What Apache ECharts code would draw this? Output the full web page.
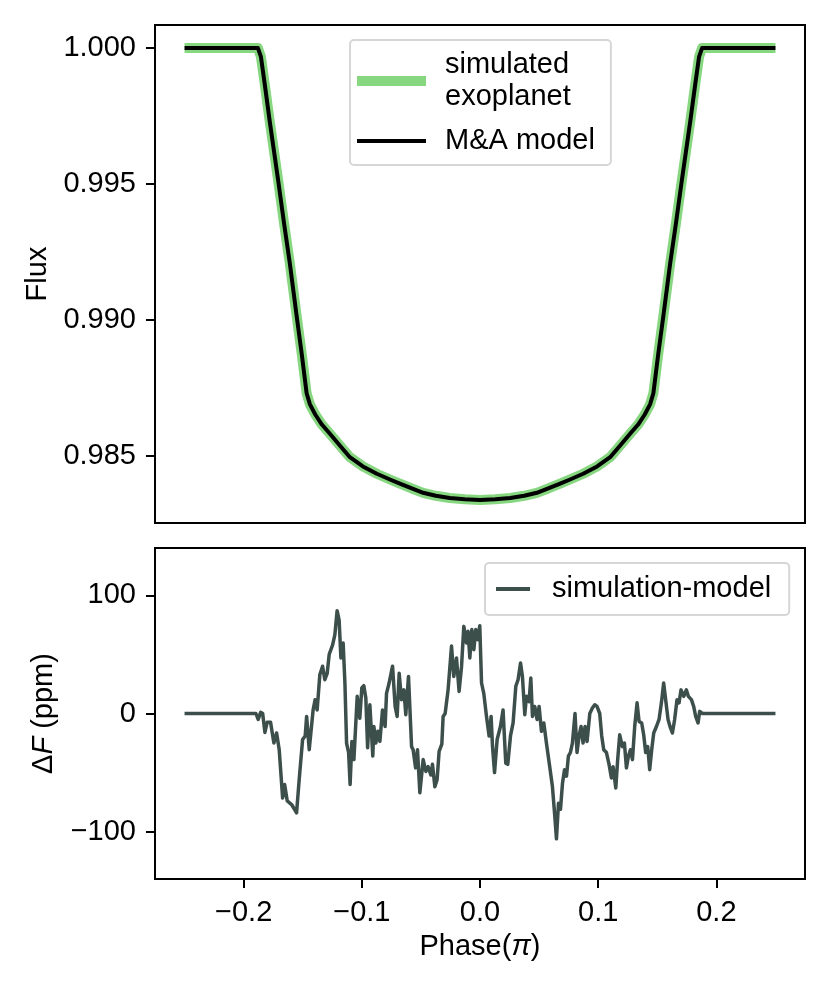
<!DOCTYPE html>
<html>
<head>
<meta charset="utf-8">
<script src="https://cdn.jsdelivr.net/npm/echarts@6/dist/echarts.min.js"></script>
<style>
  html, body { margin: 0; padding: 0; background: #fff; }
  #main { width: 830px; height: 997px; }
</style>
</head>
<body>
<div id="main"></div>
<script>
// transit light curve (phase in units of pi)
var modelPhase = [-0.25, -0.1879, -0.1854, -0.1820, -0.1778, -0.1708, -0.1659, -0.1609, -0.1552, -0.1507,
  -0.1467, -0.1439, -0.1394, -0.1338, -0.1270, -0.1186, -0.1101, -0.0991, -0.0873, -0.0762,
  -0.0678, -0.0577, -0.0481, -0.0374, -0.0256, -0.0129, 0,
  0.0129, 0.0256, 0.0374, 0.0481, 0.0577, 0.0678, 0.0762, 0.0873, 0.0991,
  0.1101, 0.1186, 0.1270, 0.1338, 0.1394, 0.1439, 0.1467, 0.1507, 0.1552, 0.1609,
  0.1659, 0.1708, 0.1778, 0.1820, 0.1854, 0.1879, 0.25];
var modelFlux = [1.00000, 1.00000, 0.99969, 0.99863, 0.99727, 0.99514, 0.99359, 0.99208, 0.99017, 0.98871,
  0.98731, 0.98690, 0.98653, 0.98616, 0.98582, 0.98539, 0.98496, 0.98462, 0.98435, 0.98414,
  0.98399, 0.98381, 0.98365, 0.98354, 0.98346, 0.98341, 0.98339,
  0.98341, 0.98346, 0.98354, 0.98365, 0.98381, 0.98399, 0.98414, 0.98435, 0.98462,
  0.98496, 0.98539, 0.98582, 0.98616, 0.98653, 0.98690, 0.98731, 0.98871, 0.99017, 0.99208,
  0.99359, 0.99514, 0.99727, 0.99863, 0.99969, 1.00000, 1.00000];

// residuals simulation - model (ppm)
var residPhase = [-0.25, -0.1896, -0.1877, -0.1856, -0.1839, -0.1820, -0.1801, -0.1772, -0.1744, -0.1721,
  -0.1699, -0.1670, -0.1653, -0.1631, -0.1594, -0.1552, -0.1530, -0.1501, -0.1479, -0.1467,
  -0.1445, -0.1412, -0.1395, -0.1378, -0.1355, -0.1332, -0.1313, -0.1293, -0.1276, -0.1247,
  -0.1228, -0.1209, -0.1192, -0.1177, -0.1158, -0.1143, -0.1129, -0.1112, -0.1099, -0.1084,
  -0.1067, -0.1039, -0.1017, -0.1000, -0.0983, -0.0966, -0.0951, -0.0932, -0.0907, -0.0898,
  -0.0881, -0.0864, -0.0847, -0.0825, -0.0803, -0.0791, -0.0769, -0.0740, -0.0718, -0.0701,
  -0.0684, -0.0664, -0.0644, -0.0628, -0.0605, -0.0579, -0.0566, -0.0545, -0.0529, -0.0509,
  -0.0481, -0.0458, -0.0439, -0.0416, -0.0402, -0.0382, -0.0363, -0.0346, -0.0323, -0.0312,
  -0.0295, -0.0270, -0.0241, -0.0222, -0.0199, -0.0177, -0.0156, -0.0137, -0.0114, -0.0101,
  -0.0086, -0.0069, -0.0052, -0.0036, -0.0019, -0.0002, 0.0013, 0.0032, 0.0055, 0.0077,
  0.0094, 0.0106, 0.0123, 0.0145, 0.0173, 0.0195, 0.0218, 0.0235, 0.0258, 0.0280,
  0.0303, 0.0322, 0.0343, 0.0359, 0.0379, 0.0393, 0.0415, 0.0430, 0.0444, 0.0463,
  0.0483, 0.0500, 0.0520, 0.0540, 0.0562, 0.0590, 0.0613, 0.0633, 0.0647, 0.0664,
  0.0681, 0.0698, 0.0715, 0.0732, 0.0748, 0.0765, 0.0782, 0.0804, 0.0821, 0.0838,
  0.0855, 0.0872, 0.0889, 0.0906, 0.0929, 0.0951, 0.0971, 0.0990, 0.1013, 0.1030,
  0.1047, 0.1070, 0.1092, 0.1112, 0.1126, 0.1149, 0.1165, 0.1182, 0.1205, 0.1222,
  0.1239, 0.1256, 0.1273, 0.1290, 0.1309, 0.1329, 0.1346, 0.1368, 0.1385, 0.1402,
  0.1419, 0.1436, 0.1453, 0.1470, 0.1493, 0.1515, 0.1535, 0.1554, 0.1571, 0.1591,
  0.1611, 0.1628, 0.1647, 0.1667, 0.1684, 0.1701, 0.1724, 0.1746, 0.1763, 0.1789,
  0.1808, 0.1825, 0.1845, 0.1859, 0.1882, 0.25];
var residPpm = [0, 0, -5, 1, 0, -16, -7.5, -7.5, -25, -16.5,
  -30.6, -71.5, -60, -74, -77, -84, -56, -22, -19, -2.5,
  -30.6, 3, 11.7, 3, 33, 40, 28.6, 34, 50, 58,
  66.7, 87, 79, 47, 59.6, 25.8, -25, -33, -60, -23.6,
  -39, 14.5, -4, 21.6, 23.5, 13, -29, 7.4, -36, -11,
  -25, -15, -23.6, 3, -11, 17, 25.8, 40, 6, -2.5,
  34, 11.7, 20, -1, 31.4, -28, -30.6, -46, -30.6, -67,
  -39, -49, -45, -52, -43, -62, -56, -32, -26, -2.5,
  0, 20, 57, 31.4, 47, 18.7, 40, 73.7, 59.6, 69.5,
  47, 71, 54, 71, 62.4, 74.3, 25.8, 17, -2.5, -19,
  -2.5, -28, -50, -22, -11, 3, -42, -43, -19, -8,
  23, 28.6, 42.7, 31.4, -1, 14.5, 10, 30, -2.5, 6,
  -5, 6, -15, -8, -25, -45, -62, -87, -106, -76,
  -81, -59, -47.5, -53, -36, -33, -25, 0, -33, -19,
  -11, -25, -11, -23.6, 0, 4.6, 7.4, 6, 0, -19,
  -30.6, -33, -43, -54.6, -45, -63, -39, -18, -28, -25,
  -46, -36, -30.6, -39, -11, 9, -6.7, -8, -18, -33,
  -28, -47.5, -30.6, -16.5, -11, -5, 9, 25.8, 11.7, -5,
  -12, -16.5, -5, 11.7, 9, 20, 14.5, 20, 14.5, 11.7,
  6, -2.5, -8, 1.8, 0, 0];

var phaseTicks = [-0.2, -0.1, 0.0, 0.1, 0.2];
var fluxTicks = [0.985, 0.990, 0.995, 1.000];
var residTicks = [-100, 0, 100];

var FONT = "'Liberation Sans', Arial, sans-serif";
var FS = 29;

function pairs(xs, ys) {
  var out = [];
  for (var i = 0; i < xs.length; i++) out.push([xs[i], ys[i]]);
  return out;
}
function minus(s) { return String(s).replace('-', '\u2212'); }

var myChart = echarts.init(document.getElementById('main'));

var tick = { show: true, inside: false, length: 9, lineStyle: { color: '#000', width: 2 } };
var label = { color: '#000', fontSize: FS, fontFamily: FONT, margin: 19 };
var noLine = { show: false, onZero: false };

var option = {
  animation: false,
  backgroundColor: '#fff',
  grid: [
    { left: 155, right: 25, top: 25, height: 498, show: true, borderColor: '#000', borderWidth: 2 },
    { left: 155, right: 25, top: 548, height: 331, show: true, borderColor: '#000', borderWidth: 2 }
  ],
  xAxis: [
    {
      type: 'value', gridIndex: 0, min: -0.275, max: 0.275, position: 'bottom',
      axisLine: noLine, axisTick: { show: false }, axisLabel: { show: false },
      splitLine: { show: false }
    },
    {
      type: 'value', gridIndex: 1, min: -0.275, max: 0.275, position: 'bottom',
      axisLine: noLine,
      axisTick: Object.assign({ customValues: phaseTicks }, tick),
      axisLabel: Object.assign({
        customValues: phaseTicks,
        formatter: function (v) { return minus(v.toFixed(1)); }
      }, label),
      splitLine: { show: false },
      name: 'Phase({i|π})', nameLocation: 'middle', nameGap: 53,
      nameTextStyle: {
        color: '#000', fontSize: FS, fontFamily: FONT,
        rich: { i: { fontStyle: 'italic', fontSize: FS, fontFamily: FONT, color: '#000' } }
      }
    }
  ],
  yAxis: [
    {
      type: 'value', gridIndex: 0, min: 0.98254, max: 1.00085, position: 'left',
      axisLine: noLine,
      axisTick: Object.assign({ customValues: fluxTicks }, tick),
      axisLabel: Object.assign({
        customValues: fluxTicks,
        formatter: function (v) { return v.toFixed(3); }
      }, label),
      splitLine: { show: false },
      name: 'Flux', nameLocation: 'middle', nameRotate: 90, nameGap: 101,
      nameTextStyle: { color: '#000', fontSize: FS, fontFamily: FONT }
    },
    {
      type: 'value', gridIndex: 1, min: -140, max: 140, position: 'left',
      axisLine: noLine,
      axisTick: Object.assign({ customValues: residTicks }, tick),
      axisLabel: Object.assign({
        customValues: residTicks,
        formatter: function (v) { return minus(v); }
      }, label),
      splitLine: { show: false },
      name: 'Δ{i|F} (ppm)', nameLocation: 'middle', nameRotate: 90, nameGap: 97,
      nameTextStyle: {
        color: '#000', fontSize: FS, fontFamily: FONT,
        rich: { i: { fontStyle: 'italic', fontSize: FS, fontFamily: FONT, color: '#000' } }
      }
    }
  ],
  legend: [
    {
      orient: 'vertical', left: 350, top: 40,
      padding: [9, 16, 8, 7], itemGap: 12,
      itemWidth: 69, itemHeight: 10,
      borderColor: '#d6d6d6', borderWidth: 2, borderRadius: 4,
      textStyle: { color: '#000', fontSize: FS, fontFamily: FONT, lineHeight: 32, padding: [0, 0, 0, 14] },
      data: [
        { name: 'simulated\nexoplanet', icon: 'path://M0,0H69V10H0Z', itemStyle: { color: '#87d680', borderWidth: 0 } },
        { name: 'M&A model', icon: 'path://M0,0H69V4H0Z', itemStyle: { color: '#000', borderWidth: 0 } }
      ]
    },
    {
      orient: 'vertical', left: 485, top: 563,
      padding: [10, 18, 10, 11],
      itemWidth: 34, itemHeight: 10,
      borderColor: '#d6d6d6', borderWidth: 2, borderRadius: 4,
      textStyle: { color: '#000', fontSize: FS, fontFamily: FONT, lineHeight: 32, padding: [0, 0, 0, 17] },
      data: [
        { name: 'simulation-model', icon: 'path://M0,0H34V4H0Z', itemStyle: { color: '#3d4f4b', borderWidth: 0 } }
      ]
    }
  ],
  series: [
    {
      name: 'simulated\nexoplanet', type: 'line', xAxisIndex: 0, yAxisIndex: 0,
      data: pairs(modelPhase, modelFlux), symbol: 'none', color: '#87d680',
      lineStyle: { color: '#87d680', width: 10, join: 'round' }
    },
    {
      name: 'M&A model', type: 'line', xAxisIndex: 0, yAxisIndex: 0,
      data: pairs(modelPhase, modelFlux), symbol: 'none', color: '#000',
      lineStyle: { color: '#000', width: 4, join: 'round' }
    },
    {
      name: 'simulation-model', type: 'line', xAxisIndex: 1, yAxisIndex: 1,
      data: pairs(residPhase, residPpm), symbol: 'none', color: '#3d4f4b',
      lineStyle: { color: '#3d4f4b', width: 3.5, join: 'round' }
    }
  ]
};

myChart.setOption(option);
</script>
</body>
</html>
